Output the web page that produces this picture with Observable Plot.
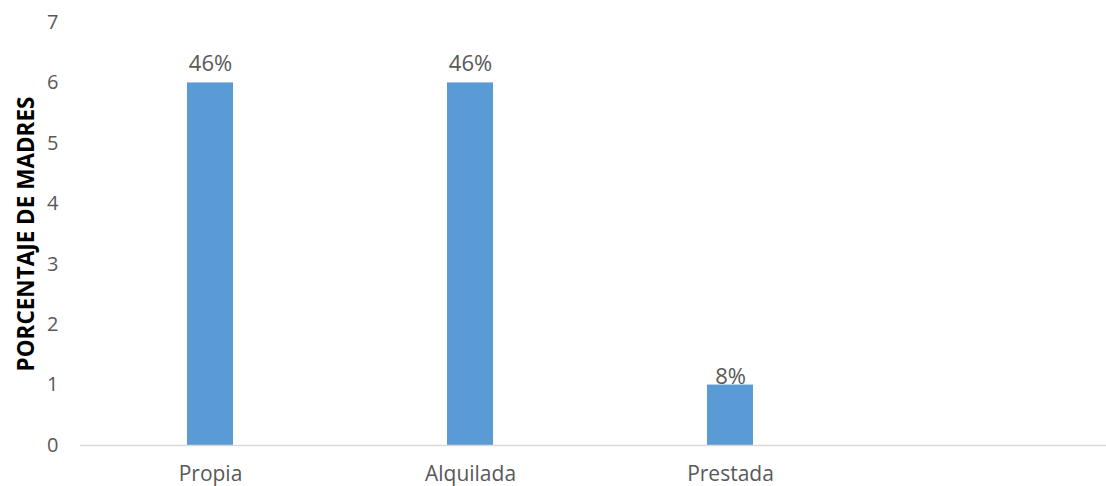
<!DOCTYPE html>
<html>
<head>
<meta charset="utf-8">
<script src="https://cdn.jsdelivr.net/npm/d3@7"></script>
<script src="https://cdn.jsdelivr.net/npm/@observablehq/plot@0.6"></script>
<style>
  html, body { margin: 0; padding: 0; background: #fff; }
  #chart { width: 1106px; height: 486px; overflow: hidden; }
</style>
</head>
<body>
<div id="chart"></div>
<script>
const categories = ["Propia", "Alquilada", "Prestada", ""];
const values = [6, 6, 1, null];
const labels = ["46%", "46%", "8%", ""];
const yTicks = [0, 1, 2, 3, 4, 5, 6, 7];
const yLabel = "PORCENTAJE DE MADRES";

const data = categories.slice(0, 3).map((c, i) => ({ cat: c, value: values[i], label: labels[i] }));

const font = "'Open Sans', Lato, sans-serif";

const chart = Plot.plot({
  width: 1106,
  height: 486,
  marginLeft: 80,
  marginRight: 0,
  marginTop: 22,
  marginBottom: 41,
  style: { fontFamily: font, fontSize: "19px", color: "#595959", background: "#fff" },
  x: { domain: categories, range: [80, 1120], padding: 0, label: null, axis: null },
  y: { domain: [0, 7], label: null, axis: null },
  marks: [
    Plot.barY(data, { x: "cat", y: "value", fill: "#5b9bd5", insetLeft: 107, insetRight: 107 }),
    Plot.ruleY([0], { stroke: "#d9d9d9", strokeWidth: 1.5 }),
    Plot.axisY({ ticks: yTicks, tickSize: 0, tickPadding: 0, dx: -22, label: null, fill: "#595959", fontSize: 20, tickFormat: d => d }),
    Plot.axisX({ domain: categories.slice(0, 3), tickSize: 0, tickPadding: 21, label: null, fill: "#595959", fontSize: 21 }),
    Plot.text(data.filter(d => d.value > 1), { x: "cat", y: "value", text: "label", dy: -19, fill: "#595959", fontSize: 22 }),
    Plot.text(data.filter(d => d.value <= 1), { x: "cat", y: "value", text: "label", dy: -8, fill: "#595959", fontSize: 22 }),
    Plot.text([yLabel], { frameAnchor: "left", textAnchor: "middle", dx: -54, rotate: -90, fill: "#000", fontWeight: "bold", fontSize: 22.5 })
  ]
});
document.getElementById("chart").appendChild(chart);
</script>
</body>
</html>
